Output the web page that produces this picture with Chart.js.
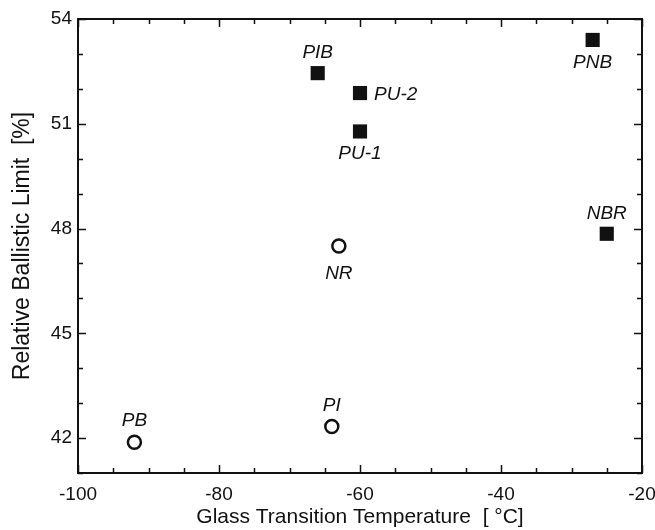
<!DOCTYPE html>
<html>
<head>
<meta charset="utf-8">
<script src="https://cdn.jsdelivr.net/npm/chart.js@4.4.0/dist/chart.umd.min.js"></script>
<style>
  html, body { margin: 0; padding: 0; background: #fff; }
  #wrap { width: 655px; height: 530px; }
</style>
</head>
<body>
<div id="wrap"><canvas id="chart"></canvas></div>
<script>
// filled squares
const filledNames = ['PIB', 'PU-2', 'PU-1', 'PNB', 'NBR'];
const filledTg = [-66, -60, -60, -27, -25];
const filledLimit = [52.45, 51.88, 50.78, 53.4, 47.85];
const filledPos = ['above', 'right', 'below', 'below', 'above'];

// open circles
const openNames = ['PB', 'PI', 'NR'];
const openTg = [-92, -64, -63];
const openLimit = [41.88, 42.33, 47.5];
const openPos = ['above', 'above', 'below'];

const xTicks = [-100, -80, -60, -40, -20];
const yTicks = [42, 45, 48, 51, 54];

const ink = '#111';
const fontFam = '"Liberation Sans", Arial, Helvetica, sans-serif';

function toPoints(xs, ys) {
    return xs.map((x, i) => ({ x: x, y: ys[i] }));
}

// frame + inward ticks, like the original plot
const framePlugin = {
    id: 'frame',
    afterDraw(chart) {
        const ctx = chart.ctx;
        const a = chart.chartArea;
        const xs = chart.scales.x, ys = chart.scales.y;
        ctx.save();
        ctx.strokeStyle = ink;
        ctx.lineWidth = 2;
        ctx.strokeRect(a.left, a.top, a.right - a.left, a.bottom - a.top);
        ctx.lineWidth = 1.5;
        ctx.beginPath();
        for (let v = xs.min; v <= xs.max; v += 5) {
            const px = Math.round(xs.getPixelForValue(v)) + 0.5;
            const len = v % 20 === 0 ? 8 : 5;
            ctx.moveTo(px, a.bottom); ctx.lineTo(px, a.bottom - len);
            ctx.moveTo(px, a.top); ctx.lineTo(px, a.top + len);
        }
        for (let v = Math.ceil(ys.min); v <= ys.max; v += 1) {
            const py = Math.round(ys.getPixelForValue(v)) + 0.5;
            const len = v % 3 === 0 ? 8 : 5;
            ctx.moveTo(a.left, py); ctx.lineTo(a.left + len, py);
            ctx.moveTo(a.right, py); ctx.lineTo(a.right - len, py);
        }
        ctx.stroke();
        ctx.restore();
    }
};

// italic sample names next to the markers
const namePlugin = {
    id: 'names',
    afterDatasetsDraw(chart) {
        const ctx = chart.ctx;
        ctx.save();
        ctx.font = 'italic 19px ' + fontFam;
        ctx.fillStyle = ink;
        ctx.textBaseline = 'alphabetic';
        chart.data.datasets.forEach((ds, di) => {
            const meta = chart.getDatasetMeta(di);
            meta.data.forEach((pt, i) => {
                const name = ds.names[i];
                const pos = ds.pos[i];
                if (pos === 'above') {
                    ctx.textAlign = 'center';
                    ctx.fillText(name, pt.x, pt.y - ds.gapAbove);
                } else if (pos === 'below') {
                    ctx.textAlign = 'center';
                    ctx.fillText(name, pt.x, pt.y + ds.gapBelow);
                } else {
                    ctx.textAlign = 'left';
                    ctx.fillText(name, pt.x + 14, pt.y + 7);
                }
            });
        });
        ctx.restore();
    }
};

new Chart(document.getElementById('chart'), {
    type: 'scatter',
    data: {
        datasets: [{
            label: 'filled',
            data: toPoints(filledTg, filledLimit),
            names: filledNames,
            pos: filledPos,
            gapAbove: 15,
            gapBelow: 28,
            pointStyle: 'rect',
            pointRadius: 10,
            pointHoverRadius: 10,
            backgroundColor: ink,
            borderColor: ink,
            borderWidth: 0
        }, {
            label: 'open',
            data: toPoints(openTg, openLimit),
            names: openNames,
            pos: openPos,
            gapAbove: 16,
            gapBelow: 33,
            pointStyle: 'circle',
            pointRadius: 6.5,
            pointHoverRadius: 6.5,
            backgroundColor: '#fff',
            borderColor: ink,
            borderWidth: 2.5
        }]
    },
    options: {
        responsive: true,
        maintainAspectRatio: false,
        animation: false,
        layout: { padding: { left: 0, right: 13, top: 19, bottom: 0 } },
        plugins: {
            legend: { display: false },
            tooltip: { enabled: false }
        },
        scales: {
            x: {
                type: 'linear',
                min: -100,
                max: -20,
                afterFit(scale) {
                    scale.height = 57;
                    scale.paddingLeft = 0;
                    scale.paddingRight = 0;
                },
                afterBuildTicks(scale) { scale.ticks = xTicks.map(v => ({ value: v })); },
                grid: { display: false, drawTicks: false },
                border: { display: false },
                ticks: { color: ink, padding: 10, font: { family: fontFam, size: 19 }, maxRotation: 0 },
                title: {
                    display: true,
                    text: 'Glass Transition Temperature  [ °C]',
                    color: ink,
                    font: { family: fontFam, size: 21 },
                    padding: { top: 0, bottom: 0 }
                }
            },
            y: {
                type: 'linear',
                min: 41,
                max: 54,
                afterFit(scale) {
                    scale.width = 78;
                    scale.paddingTop = 0;
                    scale.paddingBottom = 0;
                },
                afterBuildTicks(scale) { scale.ticks = yTicks.map(v => ({ value: v })); },
                grid: { display: false, drawTicks: false },
                border: { display: false },
                ticks: { color: ink, padding: 6, font: { family: fontFam, size: 19 } },
                title: {
                    display: true,
                    text: 'Relative Ballistic Limit  [%]',
                    color: ink,
                    font: { family: fontFam, size: 23 },
                    padding: { top: 9, bottom: 0 }
                }
            }
        }
    },
    plugins: [framePlugin, namePlugin]
});
</script>
</body>
</html>
